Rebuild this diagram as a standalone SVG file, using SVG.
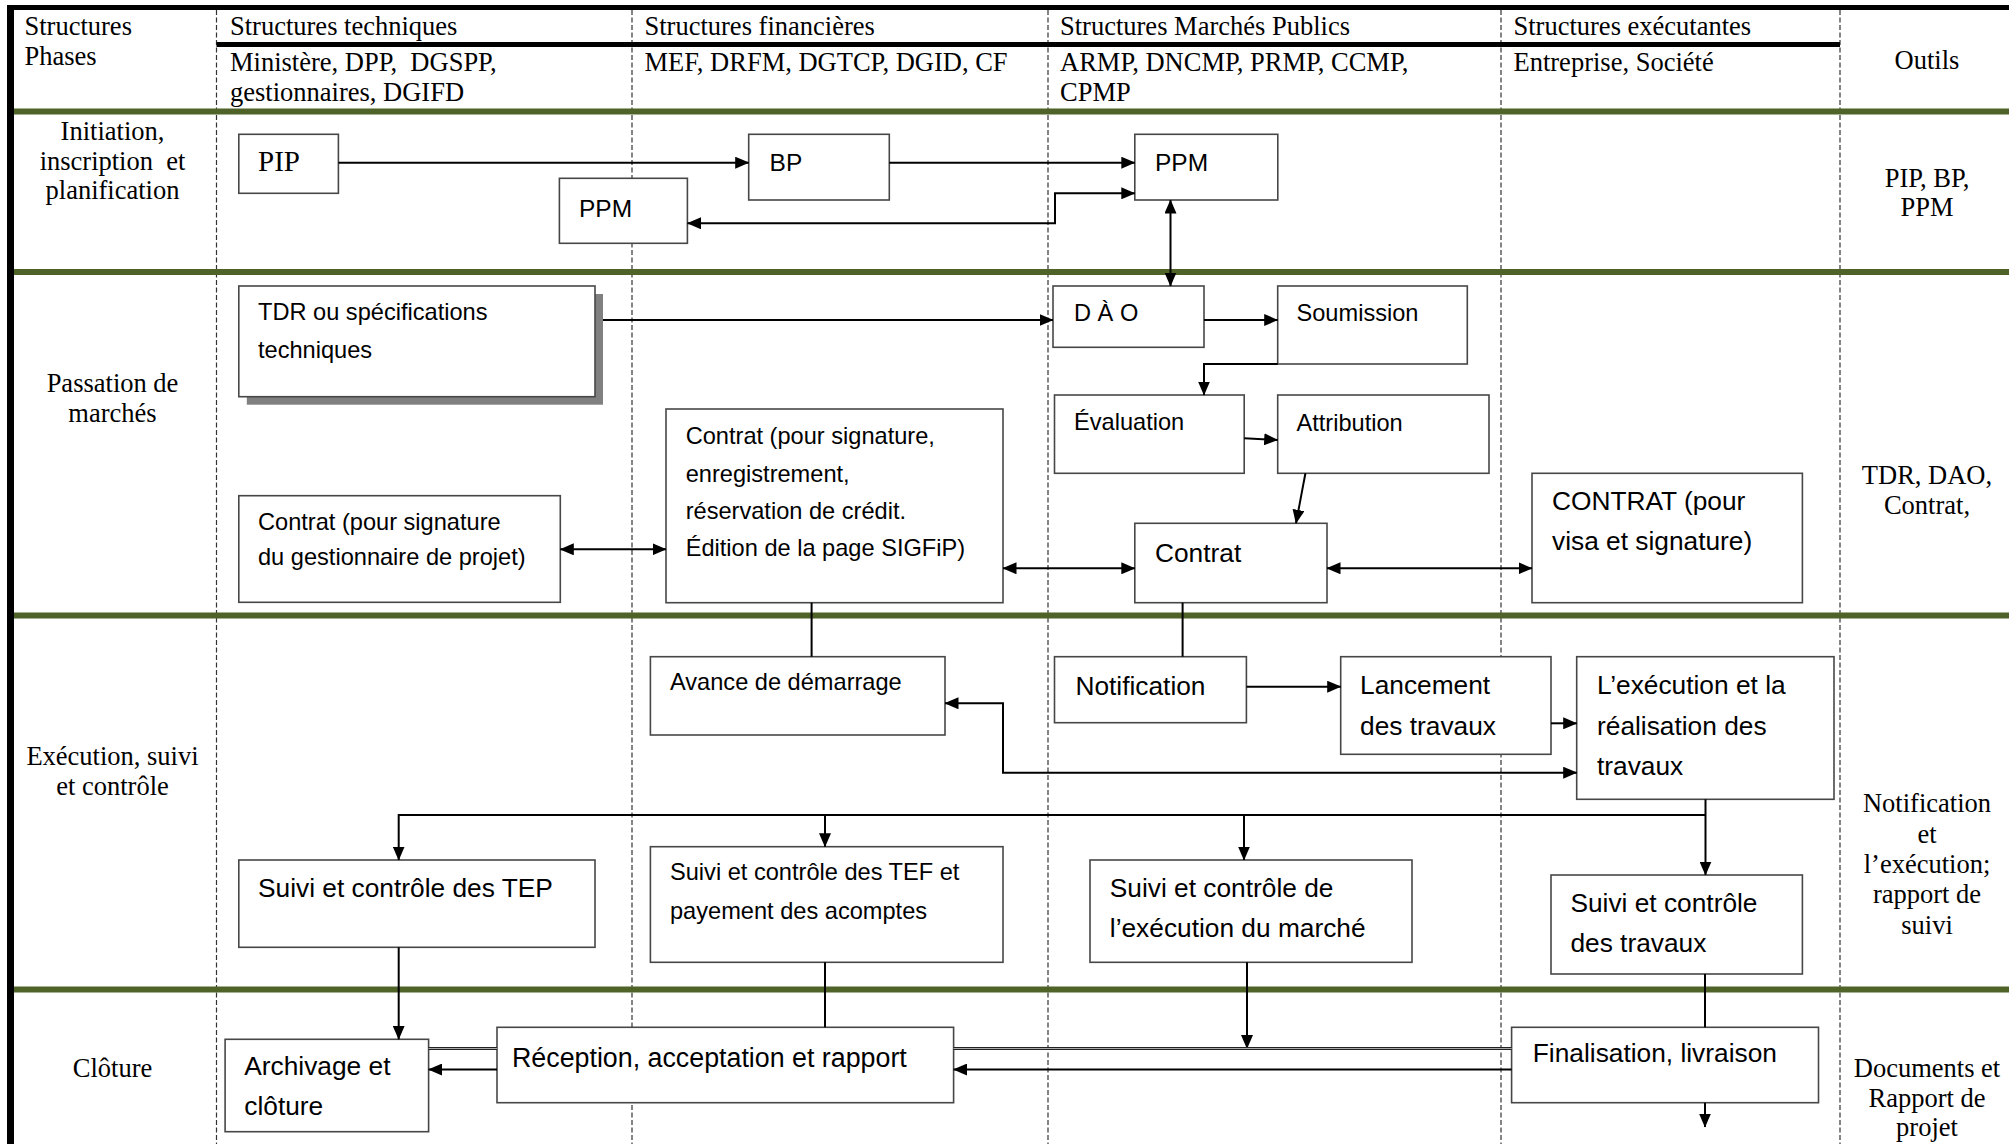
<svg xmlns="http://www.w3.org/2000/svg" width="2009" height="1144" viewBox="0 0 2009 1144">
<defs>
<style>
.serif{font-family:"Liberation Serif","Times New Roman",serif;font-size:26.5px;fill:#000}
.mid{text-anchor:middle}
.sm{font-family:"Liberation Sans",Arial,sans-serif;font-size:23.6px;fill:#000}
.lg{font-family:"Liberation Sans",Arial,sans-serif;font-size:26.3px;fill:#000}
.box{fill:#fff;stroke:#474747;stroke-width:1.6}
.dash{stroke:#333;stroke-width:1.2;stroke-dasharray:5 2.5;fill:none}
.green{fill:#4F6228}
.c{fill:none;stroke:#000;stroke-width:2}
.a1{marker-end:url(#arr)}
.a2{marker-start:url(#arr);marker-end:url(#arr)}
</style>
<marker id="arr" viewBox="0 0 14 12" markerWidth="14" markerHeight="12" refX="13.5" refY="6" orient="auto-start-reverse" markerUnits="userSpaceOnUse"><path d="M0,0 L14,6 L0,12 z" fill="#000"/></marker>
</defs>
<rect x="0" y="0" width="2009" height="1144" fill="#fff"/>
<g id="grid">
<line class="dash" x1="216.5" y1="10" x2="216.5" y2="1144"/>
<line class="dash" x1="632" y1="10" x2="632" y2="1144"/>
<line class="dash" x1="1048" y1="10" x2="1048" y2="1144"/>
<line class="dash" x1="1501" y1="10" x2="1501" y2="1144"/>
<line class="dash" x1="1840" y1="10" x2="1840" y2="1144"/>
<rect class="green" x="14" y="108.5" width="1995" height="6"/>
<rect class="green" x="14" y="269" width="1995" height="6"/>
<rect class="green" x="14" y="612.5" width="1995" height="6"/>
<rect class="green" x="14" y="986.5" width="1995" height="6"/>
<rect x="7" y="5" width="2002" height="5" fill="#000"/>
<rect x="7" y="5" width="7" height="1139" fill="#000"/>
<rect x="216.5" y="42" width="1623.5" height="5" fill="#000"/>
</g>
<g id="header">
<text class="serif" x="24.5" y="35">Structures</text>
<text class="serif" x="24.5" y="65">Phases</text>
<text class="serif" x="230" y="35">Structures techniques</text>
<text class="serif" x="230" y="71" xml:space="preserve">Ministère, DPP,  DGSPP,</text>
<text class="serif" x="230" y="101">gestionnaires, DGIFD</text>
<text class="serif" x="644.5" y="35">Structures financières</text>
<text class="serif" x="644.5" y="71">MEF, DRFM, DGTCP, DGID, CF</text>
<text class="serif" x="1060" y="35">Structures Marchés Publics</text>
<text class="serif" x="1060" y="71">ARMP, DNCMP, PRMP, CCMP,</text>
<text class="serif" x="1060" y="101">CPMP</text>
<text class="serif" x="1513.5" y="35">Structures exécutantes</text>
<text class="serif" x="1513.5" y="71">Entreprise, Société</text>
<text class="serif mid" x="1927" y="68.5">Outils</text>
</g>
<g id="phases">
<text class="serif mid" x="112.5" y="140">Initiation,</text>
<text class="serif mid" x="112.5" y="170" xml:space="preserve">inscription  et</text>
<text class="serif mid" x="112.5" y="199">planification</text>
<text class="serif mid" x="112.5" y="391.5">Passation de</text>
<text class="serif mid" x="112.5" y="421.5">marchés</text>
<text class="serif mid" x="112.5" y="765">Exécution, suivi</text>
<text class="serif mid" x="112.5" y="795">et contrôle</text>
<text class="serif mid" x="112.5" y="1077">Clôture</text>
</g>
<g id="outils">
<text class="serif mid" x="1927" y="186.5">PIP, BP,</text>
<text class="serif mid" x="1927" y="215.5">PPM</text>
<text class="serif mid" x="1927" y="484">TDR, DAO,</text>
<text class="serif mid" x="1927" y="514">Contrat,</text>
<text class="serif mid" x="1927" y="812">Notification</text>
<text class="serif mid" x="1927" y="842.5">et</text>
<text class="serif mid" x="1927" y="873">l’exécution;</text>
<text class="serif mid" x="1927" y="903">rapport de</text>
<text class="serif mid" x="1927" y="933.5">suivi</text>
<text class="serif mid" x="1927" y="1077">Documents et</text>
<text class="serif mid" x="1927" y="1107">Rapport de</text>
<text class="serif mid" x="1927" y="1136">projet</text>
</g>
<g id="n-pip"><rect class="box" x="238.8" y="134.3" width="99.6" height="59"/><text class="serif" style="font-size:29px" x="258" y="171">PIP</text></g>
<g id="n-ppm-left"><rect class="box" x="559.4" y="178.3" width="128" height="65"/><text class="sm" style="font-size:24.5px" x="579" y="217">PPM</text></g>
<g id="n-bp"><rect class="box" x="748.7" y="134.3" width="140.6" height="65.7"/><text class="sm" style="font-size:24.5px" x="769.6" y="171">BP</text></g>
<g id="n-ppm-right"><rect class="box" x="1134.8" y="134.3" width="143" height="65.7"/><text class="sm" style="font-size:24.5px" x="1155" y="171">PPM</text></g>
<g id="n-tdr"><rect x="246.8" y="294" width="356.2" height="110.7" fill="#808080"/><rect class="box" x="238.8" y="286" width="356.2" height="110.7"/><text class="sm" x="258" y="320">TDR ou spécifications</text><text class="sm" x="258" y="358">techniques</text></g>
<g id="n-dao"><rect class="box" x="1053" y="286" width="151" height="61.3"/><text class="sm" x="1074" y="321">D À O</text></g>
<g id="n-soumission"><rect class="box" x="1277.7" y="286" width="189.6" height="78"/><text class="sm" x="1296.5" y="321">Soumission</text></g>
<g id="n-evaluation"><rect class="box" x="1054.5" y="395" width="189.7" height="78.3"/><text class="sm" x="1074" y="430">Évaluation</text></g>
<g id="n-attribution"><rect class="box" x="1277.7" y="395" width="211.3" height="78.3"/><text class="sm" x="1296.5" y="431">Attribution</text></g>
<g id="n-contrat-gest"><rect class="box" x="238.8" y="495.7" width="321.5" height="106.6"/><text class="sm" x="258" y="530">Contrat (pour signature</text><text class="sm" x="258" y="565">du gestionnaire de projet)</text></g>
<g id="n-contrat-fin"><rect class="box" x="666" y="409" width="337" height="193.7"/><text class="sm" x="685.7" y="443.5">Contrat (pour signature,</text><text class="sm" x="685.7" y="481.5">enregistrement,</text><text class="sm" x="685.7" y="518.5">réservation de crédit.</text><text class="sm" x="685.7" y="556">Édition de la page SIGFiP)</text></g>
<g id="n-contrat"><rect class="box" x="1134.8" y="523.3" width="192.2" height="79.4"/><text class="lg" x="1155" y="562">Contrat</text></g>
<g id="n-contrat-visa"><rect class="box" x="1532" y="473.3" width="270.4" height="129.4"/><text class="lg" x="1552" y="510">CONTRAT (pour</text><text class="lg" x="1552" y="550">visa et signature)</text></g>
<g id="n-avance"><rect class="box" x="650.4" y="656.7" width="294.6" height="78.3"/><text class="sm" x="670" y="690">Avance de démarrage</text></g>
<g id="n-notification"><rect class="box" x="1054.5" y="656.7" width="191.9" height="66"/><text class="lg" x="1075.4" y="695">Notification</text></g>
<g id="n-lancement"><rect class="box" x="1340.7" y="656.7" width="210.3" height="97.6"/><text class="lg" x="1360" y="693.5">Lancement</text><text class="lg" x="1360" y="735">des travaux</text></g>
<g id="n-execution"><rect class="box" x="1576.7" y="656.7" width="257.3" height="142.6"/><text class="lg" x="1597" y="693.5">L’exécution et la</text><text class="lg" x="1597" y="735">réalisation des</text><text class="lg" x="1597" y="775">travaux</text></g>
<g id="n-suivi-tep"><rect class="box" x="238.8" y="860" width="356.2" height="87.3"/><text class="lg" x="258" y="896.5">Suivi et contrôle des TEP</text></g>
<g id="n-suivi-tef"><rect class="box" x="650.4" y="846.7" width="352.6" height="115.6"/><text class="sm" x="670" y="880">Suivi et contrôle des TEF et</text><text class="sm" x="670" y="918.5">payement des acomptes</text></g>
<g id="n-suivi-marche"><rect class="box" x="1090" y="860" width="322" height="102.3"/><text class="lg" x="1109.8" y="896.5">Suivi et contrôle de</text><text class="lg" x="1109.8" y="936.5">l’exécution du marché</text></g>
<g id="n-suivi-travaux"><rect class="box" x="1551" y="875" width="251.4" height="99"/><text class="lg" x="1570.4" y="911.5">Suivi et contrôle</text><text class="lg" x="1570.4" y="951.5">des travaux</text></g>
<g id="n-archivage"><rect class="box" x="225.1" y="1039.3" width="203.5" height="92.4"/><text class="lg" x="244.3" y="1075">Archivage et</text><text class="lg" x="244.3" y="1115">clôture</text></g>
<g id="n-reception"><rect class="box" x="497" y="1027.3" width="456.6" height="75.4"/><text class="lg" style="font-size:26.8px" x="512" y="1067">Réception, acceptation et rapport</text></g>
<g id="n-finalisation"><rect class="box" x="1511.6" y="1027.3" width="306.9" height="75.4"/><text class="lg" x="1532.8" y="1062">Finalisation, livraison</text></g>
<g id="connectors">
<path class="c a1" d="M338.4 162.7 H748.7"/>
<path class="c a1" d="M889.3 162.7 H1134.8"/>
<path class="c a2" d="M687.5 223.3 H1055 V193.3 H1134.8"/>
<path class="c a2" d="M1170.5 200 V286"/>
<path class="c a1" d="M603 320 H1053"/>
<path class="c a1" d="M1204 320 H1277.7"/>
<path class="c a1" d="M1277.7 364 H1204 V395"/>
<path class="c a1" d="M1244.2 438.3 L1277.7 440"/>
<path class="c a1" d="M1305.4 473.3 L1296 523.3"/>
<path class="c a2" d="M560.3 549.3 H666"/>
<path class="c a2" d="M1003 568.3 H1134.8"/>
<path class="c a2" d="M1327 568.3 H1532"/>
<path class="c" d="M811.6 602.7 V656.7"/>
<path class="c" d="M1182.6 602.7 V656.7"/>
<path class="c a1" d="M1246.4 686.7 H1340.7"/>
<path class="c a1" d="M1551 723.3 H1576.7"/>
<path class="c a2" d="M945 703.3 H1003 V772.7 H1576.7"/>
<path class="c a1" d="M1705.5 799.3 V875"/>
<path class="c a1" d="M1705.5 815 H398.7 V860"/>
<path class="c a1" d="M825 815 V846.7"/>
<path class="c a1" d="M1244 815 V860"/>
<path class="c a1" d="M398.7 947.3 V1039.3"/>
<path class="c" d="M825 962.3 V1027.3"/>
<path class="c a1" d="M1247 962.3 V1048.5"/>
<path d="M428.6 1048.5 H497 M953.6 1048.5 H1511.6" fill="none" stroke="#222" stroke-width="3.2"/>
<path d="M428.6 1048.5 H497 M953.6 1048.5 H1511.6" fill="none" stroke="#aaa" stroke-width="1"/>
<path class="c a1" d="M497 1069.5 H428.6"/>
<path class="c a1" d="M1511.6 1069.5 H953.6"/>
<path class="c" d="M1705 974 V1027.3"/>
<path class="c a1" d="M1705 1102.7 V1127"/>
</g>
</svg>
